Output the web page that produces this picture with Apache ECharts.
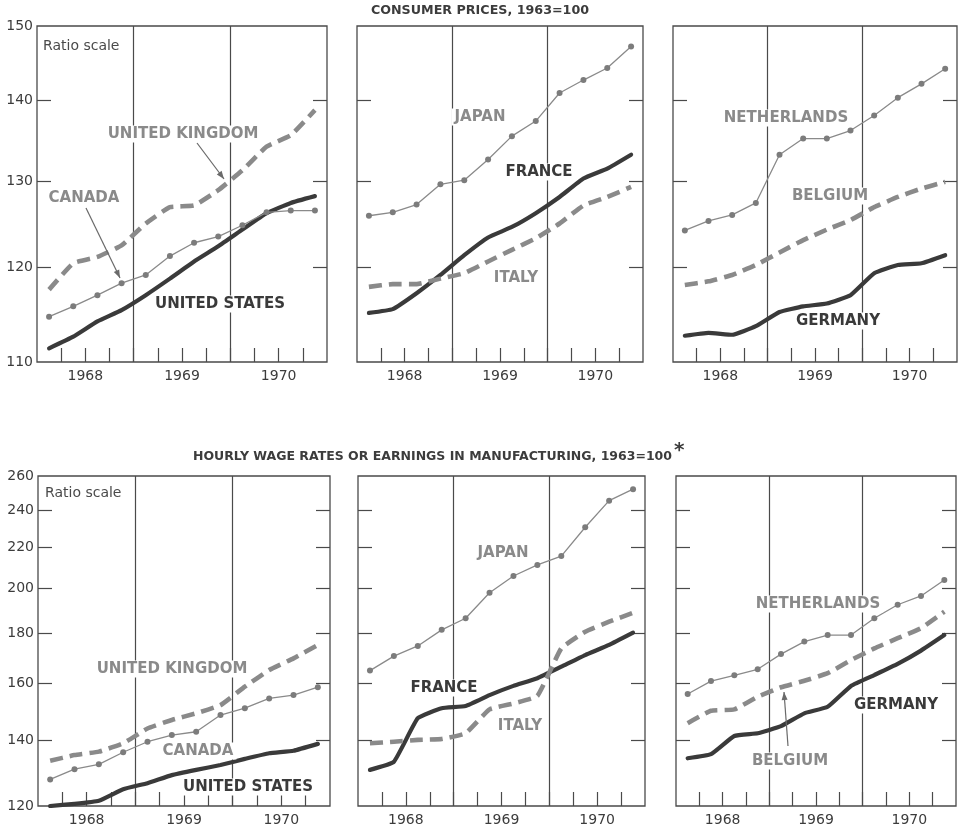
<!DOCTYPE html>
<html><head><meta charset="utf-8">
<script src="https://cdn.jsdelivr.net/npm/echarts@6/dist/echarts.min.js"></script>
<style>html,body{margin:0;padding:0;background:#fff}#c{width:960px;height:836px}</style>
</head><body><div id="c"></div>
<script>
// ---- categories / ticks ----
const quarters = ['1968 Q1','1968 Q2','1968 Q3','1968 Q4','1969 Q1','1969 Q2','1969 Q3','1969 Q4','1970 Q1','1970 Q2','1970 Q3','1970 Q4'];
const years = ['1968','1969','1970'];
const cpiTicks = [110,120,130,140,150];
const wageTicks = [120,140,160,180,200,220,240,260];

// ---- consumer prices, 1963=100 ----
const cpiUS          = [111.4,112.6,114.2,115.4,117.0,118.8,120.7,122.4,124.3,126.2,127.4,128.2];
const cpiCanada      = [114.7,115.8,117.0,118.3,119.2,121.3,122.8,123.5,124.8,126.3,126.5,126.5];
const cpiUK          = [117.6,120.5,121.2,122.5,125.0,126.9,127.1,128.9,131.3,134.2,135.6,138.8];
const cpiJapan       = [125.9,126.3,127.2,129.6,130.1,132.6,135.5,137.4,141.0,142.7,144.3,147.2];
const cpiFrance      = [115.1,115.5,117.2,119.2,121.4,123.4,124.6,126.2,128.1,130.3,131.5,133.2];
const cpiItaly       = [117.9,118.2,118.2,118.8,119.4,120.7,122.0,123.3,125.0,127.1,128.1,129.3];
const cpiNetherlands = [124.2,125.3,126.0,127.4,133.2,135.2,135.2,136.2,138.1,140.4,142.2,144.2];
const cpiBelgium     = [118.1,118.5,119.2,120.3,121.7,123.1,124.3,125.4,126.9,128.1,129.1,129.9];
const cpiGermany     = [112.7,113.0,112.8,113.7,115.2,115.8,116.1,117.0,119.4,120.3,120.5,121.4];

// ---- hourly wage rates or earnings in manufacturing, 1963=100 ----
const wageUS          = [120.0,120.6,121.5,124.8,126.6,129.0,130.6,132.1,134.0,135.8,136.6,138.8];
const wageCanada      = [127.7,130.8,132.3,136.1,139.5,141.7,142.8,148.5,150.9,154.4,155.6,158.5];
const wageUK          = [133.4,135.2,136.3,139.0,143.9,146.8,149.1,152.0,158.7,165.0,169.6,175.0];
const wageJapan       = [164.8,170.5,174.6,181.3,186.3,197.8,205.7,211.1,215.5,230.6,245.4,252.1];
const wageFrance      = [130.6,133.1,147.4,150.9,151.7,155.6,159.0,161.9,166.3,170.9,175.0,180.1];
const wageItaly       = [139.0,139.5,140.1,140.4,142.3,150.5,152.6,155.3,173.6,180.5,184.8,188.7];
const wageNetherlands = [156.0,160.8,163.0,165.3,171.3,176.4,179.1,179.1,186.3,192.3,196.3,203.8];
const wageBelgium     = [145.7,150.0,150.5,155.0,158.5,160.9,163.8,168.9,173.6,177.8,182.0,189.2];
const wageGermany     = [134.2,135.5,141.4,142.3,144.7,149.1,151.4,159.0,163.1,167.4,172.7,179.1];

// ---- layout & style ----
const FONT = 'DejaVu Sans';
const DARK = '#3a3a3a', GRAY = '#8a8a8a', FRAME = '#4a4a4a', TXT = '#3c3c3c';
const grids = [
  {left:37,  top:26,  width:290, height:336},
  {left:357, top:26,  width:286, height:336},
  {left:673, top:26,  width:284, height:336},
  {left:38,  top:476, width:292, height:330},
  {left:358, top:476, width:287, height:330},
  {left:676, top:476, width:280, height:330}
];
const scales = {
  cpi:  {ticks: cpiTicks},
  wage: {ticks: wageTicks}
};
const panels = [
  {scale:'cpi',  showY:true,  lines:[['United States',cpiUS,'dark'],['Canada',cpiCanada,'thin'],['United Kingdom',cpiUK,'dash']]},
  {scale:'cpi',  showY:false, lines:[['France',cpiFrance,'dark'],['Japan',cpiJapan,'thin'],['Italy',cpiItaly,'dash']]},
  {scale:'cpi',  showY:false, lines:[['Germany',cpiGermany,'dark'],['Netherlands',cpiNetherlands,'thin'],['Belgium',cpiBelgium,'dash']]},
  {scale:'wage', showY:true,  lines:[['United States',wageUS,'dark'],['Canada',wageCanada,'thin'],['United Kingdom',wageUK,'dash']]},
  {scale:'wage', showY:false, lines:[['France',wageFrance,'dark'],['Japan',wageJapan,'thin'],['Italy',wageItaly,'dash']]},
  {scale:'wage', showY:false, lines:[['Germany',wageGermany,'dark'],['Netherlands',wageNetherlands,'thin'],['Belgium',wageBelgium,'dash']]}
];
const lineStyles = {
  dark: {lineStyle:{color:DARK, width:4.2, cap:'round', join:'round'}, symbol:'none', smooth:0.12},
  dash: {lineStyle:{color:GRAY, width:4.6, type:[13,7], join:'round'}, symbol:'none', smooth:0.12},
  thin: {lineStyle:{color:GRAY, width:1.3}, symbol:'circle', symbolSize:6, itemStyle:{color:'#7c7c7c'}}
};
// annotation positions (pixels)
const notes = [
  ['Ratio scale', 43, 46, 'note'], ['Ratio scale', 45, 493, 'note'],
  ['UNITED KINGDOM', 183, 134, 'gray'], ['CANADA', 84, 198, 'gray'], ['UNITED STATES', 220, 304, 'dark'],
  ['JAPAN', 480, 117, 'gray'], ['FRANCE', 539, 172, 'dark'], ['ITALY', 516, 278, 'gray'],
  ['NETHERLANDS', 786, 118, 'gray'], ['BELGIUM', 830, 196, 'gray'], ['GERMANY', 838, 321, 'dark'],
  ['UNITED KINGDOM', 172, 669, 'gray'], ['CANADA', 198, 751, 'gray'], ['UNITED STATES', 248, 787, 'dark'],
  ['JAPAN', 503, 553, 'gray'], ['FRANCE', 444, 688, 'dark'], ['ITALY', 520, 726, 'gray'],
  ['NETHERLANDS', 818, 604, 'gray'], ['GERMANY', 896, 705, 'dark'], ['BELGIUM', 790, 761, 'gray']
];
const arrows = [[197,143,224,179],[86,208,120,278],[788,746,784,692]];

const quarterTicks = [];
for (let i = 1; i < quarters.length; i++) quarterTicks.push(i);
const yearCenters = years.map((y,k)=>k*4+2);
const yearBounds = years.slice(1).map((y,k)=>(k+1)*4);

const xAxis = [], yAxis = [], series = [];
panels.forEach((p, gi) => {
  const sc = scales[p.scale];
  const ymin = sc.ticks[0], ymax = sc.ticks[sc.ticks.length-1];
  xAxis.push({
    gridIndex: gi, type:'value', min:0, max:quarters.length,
    axisLine:{show:false},
    axisTick:{show:true, inside:true, length:14, customValues:quarterTicks, lineStyle:{color:FRAME, width:1.2}},
    axisLabel:{show:true, customValues:yearCenters, formatter:v=>years[(v-2)/4], margin:7,
      fontFamily:FONT, fontSize:14, color:TXT},
    splitLine:{show:false}
  });
  const yBase = {
    gridIndex: gi, type:'log', logBase:10, min:ymin, max:ymax,
    axisLine:{show:false},
    axisTick:{show:true, inside:true, length:14, customValues:sc.ticks.slice(1,-1), lineStyle:{color:FRAME, width:1.2}},
    splitLine:{show:false}
  };
  yAxis.push(Object.assign({}, yBase, {position:'left',
    axisLabel:{show:p.showY, customValues:sc.ticks, margin:4, fontFamily:FONT, fontSize:14, color:TXT}}));
  yAxis.push(Object.assign({}, yBase, {position:'right', axisLabel:{show:false}}));
  p.lines.forEach(([name, arr, kind], si) => {
    const s = Object.assign({
      type:'line', name, xAxisIndex:gi, yAxisIndex:gi*2,
      data: arr.map((v,i)=>[i+0.5, v]),
      animation:false, silent:true, z: kind==='thin'?4:3
    }, lineStyles[kind]);
    if (si === 0) {
      s.markLine = {silent:true, symbol:'none', z:1, animation:false, label:{show:false},
        lineStyle:{color:FRAME, width:1.2, type:'solid'},
        data: yearBounds.map(b=>({xAxis:b}))};
    }
    series.push(s);
  });
});

const graphic = [];
graphic.push({type:'text', z:100, style:{text:'CONSUMER PRICES, 1963=100', x:480, y:11, align:'center', verticalAlign:'middle',
  font:'bold 12.7px "'+FONT+'"', fill:'#3c3c3c'}});
graphic.push({type:'text', z:100, style:{text:'HOURLY WAGE RATES OR EARNINGS IN MANUFACTURING, 1963=100', x:193, y:457, align:'left', verticalAlign:'middle',
  font:'bold 12.5px "'+FONT+'"', fill:'#3c3c3c'}});
graphic.push({type:'text', z:100, style:{text:'*', x:674, y:451, align:'left', verticalAlign:'middle',
  font:'bold 20px "'+FONT+'"', fill:'#3c3c3c'}});
notes.forEach(([t,x,y,k]) => {
  const st = {text:t, x, y, verticalAlign:'middle', backgroundColor:'#fff', padding:[1,3]};
  if (k === 'note') { st.align='left'; st.font='14px "'+FONT+'"'; st.fill='#4a4a4a'; st.backgroundColor=null; st.padding=0; }
  else { st.align='center'; st.font='bold 15px "'+FONT+'"'; st.fill = k==='dark'?DARK:GRAY; }
  graphic.push({type:'text', z:100, style:st});
});
arrows.forEach(([x1,y1,x2,y2]) => {
  graphic.push({type:'line', z:100, shape:{x1,y1,x2,y2}, style:{stroke:'#6a6a6a', lineWidth:1.2}});
  const a = Math.atan2(y2-y1, x2-x1), L = 8, W = 3;
  const bx = x2 - L*Math.cos(a), by = y2 - L*Math.sin(a);
  graphic.push({type:'polygon', z:100, shape:{points:[[x2,y2],[bx - W*Math.sin(a), by + W*Math.cos(a)],[bx + W*Math.sin(a), by - W*Math.cos(a)]]},
    style:{fill:'#6a6a6a'}});
});

const chart = echarts.init(document.getElementById('c'), null, {renderer:'canvas'});
chart.setOption({
  backgroundColor:'#fff',
  animation:false,
  grid: grids.map(g=>Object.assign({show:true, borderColor:FRAME, borderWidth:1.3, backgroundColor:'transparent'}, g)),
  xAxis, yAxis, series, graphic
});
</script></body></html>
